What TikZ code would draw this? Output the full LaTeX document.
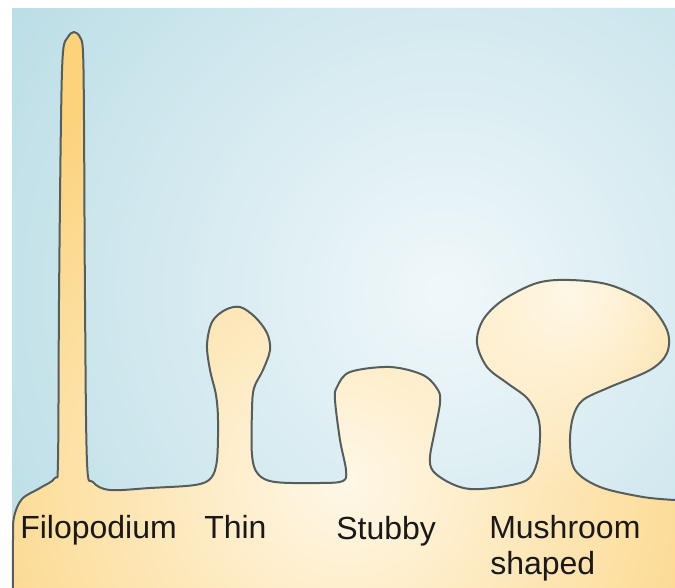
\documentclass[tikz,border=0pt]{standalone}
\usepackage{fontspec}
\setmainfont{Liberation Sans}
\usetikzlibrary{fadings}
\definecolor{sky}{HTML}{B3DAE3}
\definecolor{skyglow}{HTML}{F1F8FB}
\definecolor{spine}{HTML}{FCD27A}
\definecolor{cream}{HTML}{FFF8E8}
\definecolor{rim}{HTML}{565D5D}
\tikzfading[name=glow,inner color=transparent!0,outer color=transparent!100]

% membrane outline of the dendrite with its four spine types
\def\dendrite{plot[smooth,tension=0.55] coordinates {
  (13,588) (13,540) (14,517) (22,499) (40,488) (55,478) (58,460) (59,300) (61,120) (63,52) (68,37) (74,32)
  (80,37) (83,52) (84,120) (85,300) (87,462) (93,482) (110,490) (150,488) (195,485) (211,478) (217,460)
  (218,420) (216,395) (210,370) (207,345) (212,322) (225,310) (240,307) (255,317) (267,333) (270,350)
  (263,370) (254,388) (252,410) (252,455) (258,474) (275,482) (320,483) (343,481) (346,470) (340,440)
  (335,400) (337,387) (350,372) (390,367) (423,375) (438,390) (440,403) (435,430) (430,457) (433,471)
  (450,483) (470,489) (500,487) (527,480) (537,463) (540,437) (538,417) (527,398) (507,383) (487,367)
  (477,343) (483,320) (503,300) (537,283) (570,280) (610,285) (647,303) (667,330) (667,353) (650,370)
  (610,387) (583,400) (573,417) (570,443) (575,470) (600,487) (643,497) (675,500)}}

\begin{document}
\begin{tikzpicture}[x=0.75pt,y=-0.75pt,
  lbl/.style={anchor=base west,inner sep=0pt,font=\fontsize{24}{28}\selectfont,text=black!90}]
\useasboundingbox (0,0) rectangle (675,588);
\fill[white] (0,0) rectangle (675,588);
\begin{scope}
\clip (12,8) rectangle (675,588);
\fill[sky] (12,8) rectangle (675,588);
\fill[skyglow,path fading=glow] (445,292) circle (600);
\end{scope}
\fill[spine] \dendrite -- (675,588) -- cycle;
\begin{scope}
\clip \dendrite -- (675,588) -- cycle;
\fill[cream,path fading=glow] (345,480) circle (460);
\fill[cream,path fading=glow] (570,295) circle (200);
\end{scope}
\draw[rim,line width=1.5pt,line join=round] \dendrite;
\node[lbl] (filo) at (20,538) {Filopodium};
\node[lbl] (thin) at (204,538) {Thin};
\node[lbl] (stubby) at (336,539) {Stubby};
\node[lbl] (mush) at (489,538) {Mushroom};
\node[lbl] (shaped) at (490,574) {shaped};
\end{tikzpicture}
\end{document}
